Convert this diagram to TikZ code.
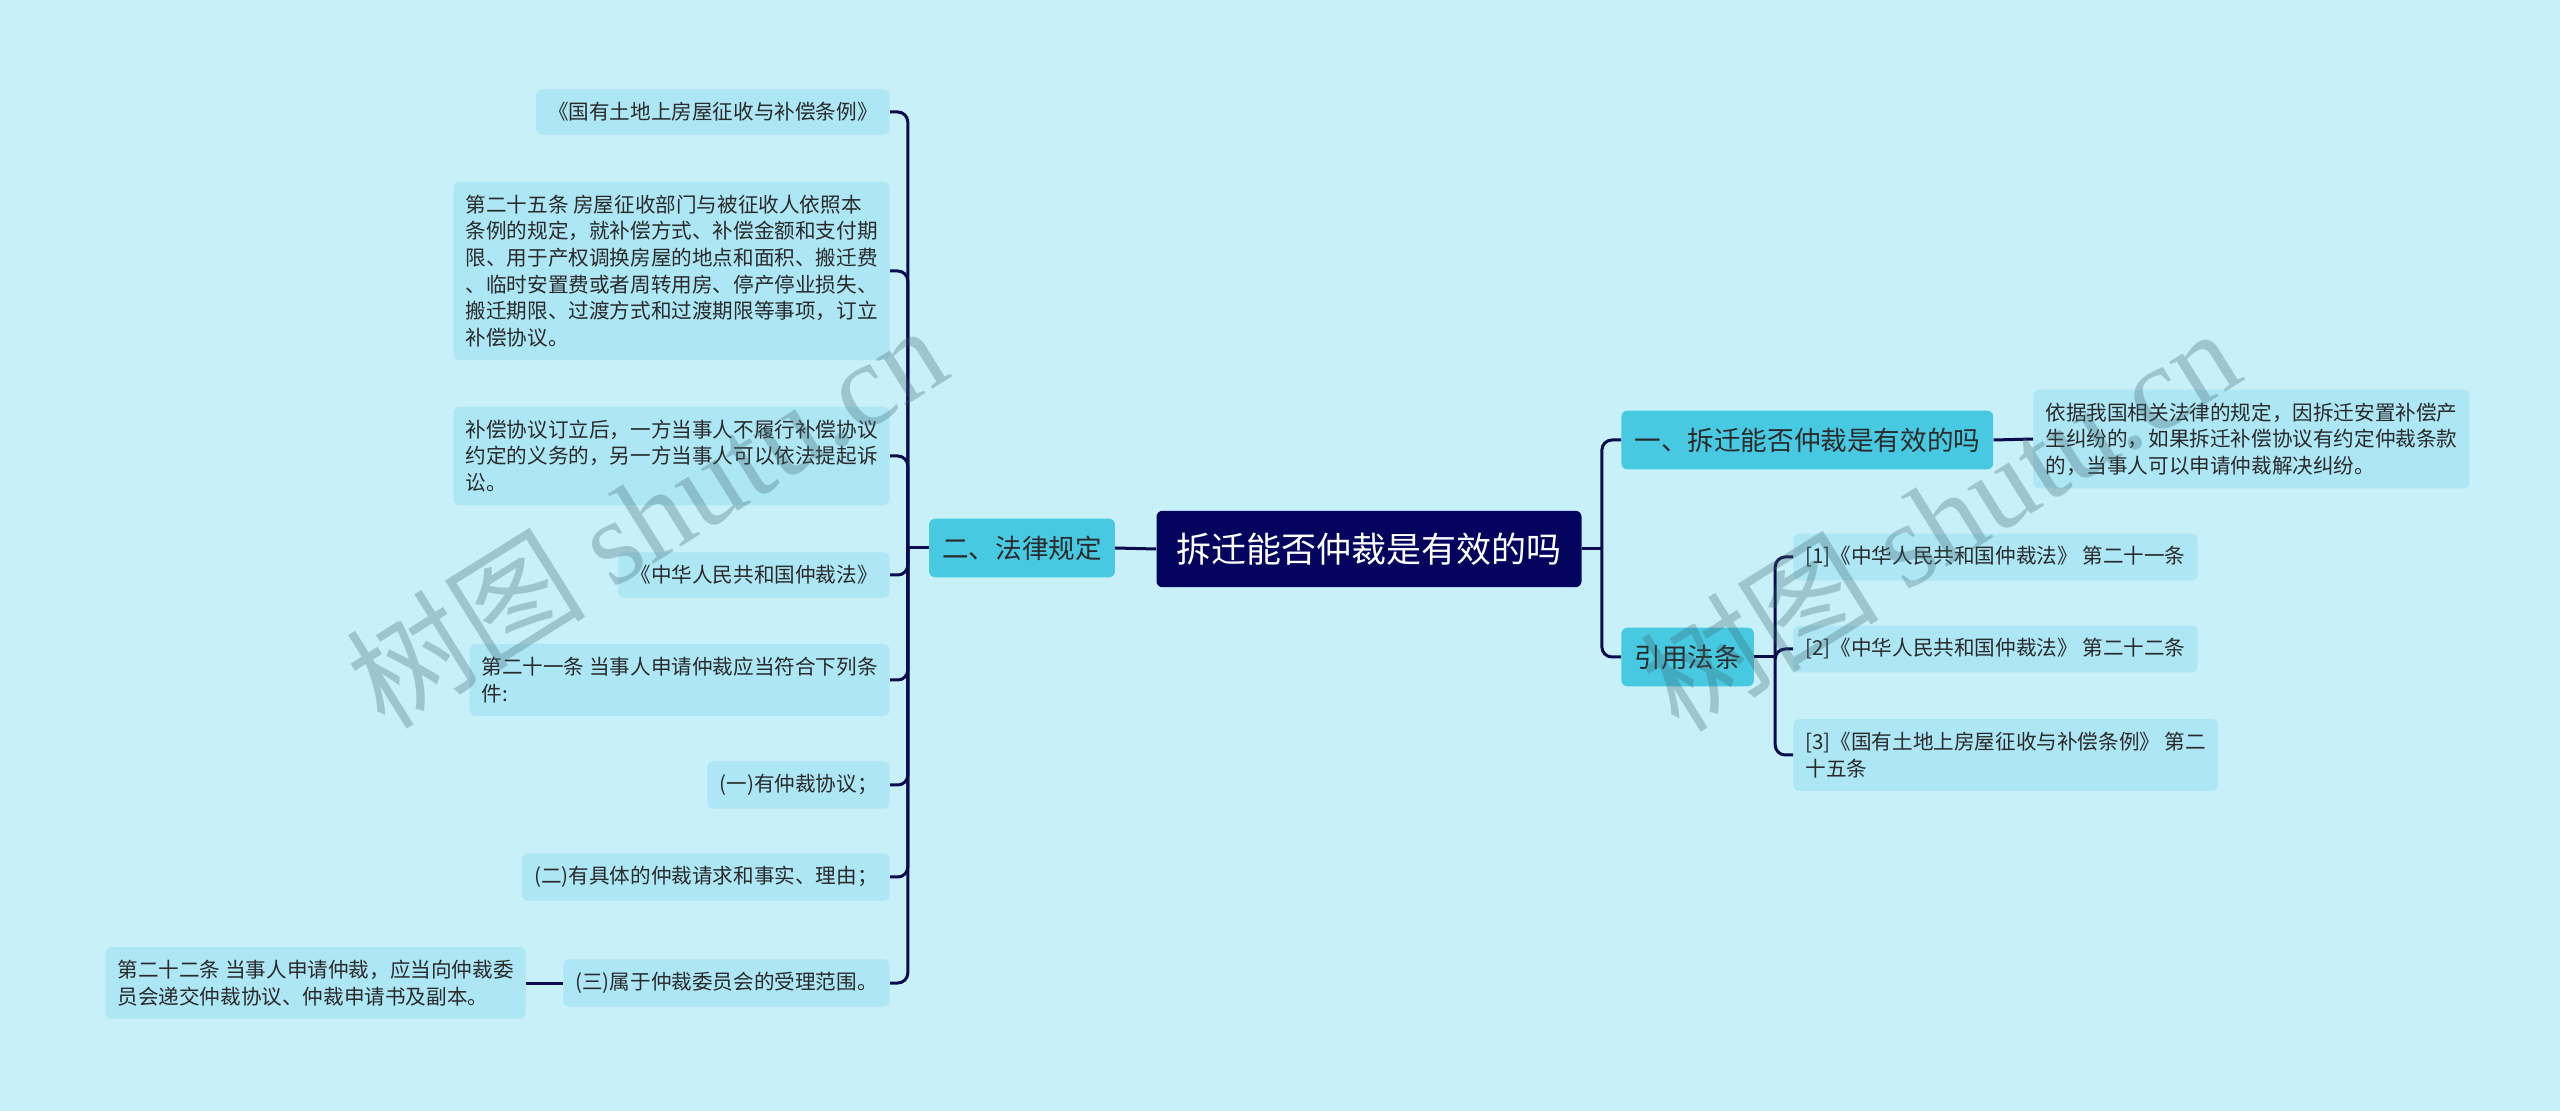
\documentclass[tikz,border=0pt]{standalone}
\usepackage{fontspec}
\setmainfont{Noto Sans CJK SC}
\newfontfamily\wmlatin{Liberation Serif}
\usetikzlibrary{calc}

\definecolor{bgc}{HTML}{C8F0F8}
\definecolor{leafc}{HTML}{ADE6F4}
\definecolor{topicc}{HTML}{48C9E2}
\definecolor{rootc}{HTML}{04045E}
\definecolor{linec}{HTML}{0B0B4E}
\definecolor{txtc}{HTML}{2A2A2A}
\definecolor{wmc}{HTML}{3C646E}

\tikzset{
  leaf/.style={fill=leafc, rounded corners=3pt, inner xsep=6pt, inner ysep=6.5pt,
    align=left, text=txtc, font=\fontsize{10.3pt}{13.3pt}\selectfont},
  topic/.style={fill=topicc, rounded corners=3pt, inner xsep=6.5pt, inner ysep=8.5pt,
    text=txtc, font=\fontsize{13.3pt}{16pt}\selectfont},
  rootbox/.style={fill=rootc, rounded corners=3pt, inner xsep=10pt, inner ysep=11pt,
    text=white, font=\fontsize{17.5pt}{20pt}\selectfont},
  link/.style={draw=linec, line width=1.5pt},
  mark wm/.style={text=wmc, opacity=.3, rotate=32, font=\fontsize{60pt}{60pt}\selectfont},
}

\begin{document}
\begin{tikzpicture}[x=0.5pt,y=-0.5pt]

  \fill[bgc] (0,0) rectangle (2560,1111);
  \useasboundingbox (0,0) rectangle (2560,1111);

  % centre and first level
  \node[rootbox] (root) at (1369,549) {拆迁能否仲裁是有效的吗};
  \node[topic] (law) at (1022,548) {二、法律规定};
  \node[topic,anchor=west] (q) at (1621,440) {一、拆迁能否仲裁是有效的吗};
  \node[topic,anchor=west] (cite) at (1621,657) {引用法条};

  % left branch
  \node[leaf,anchor=east] (l1) at (890,112) {《国有土地上房屋征收与补偿条例》};
  \node[leaf,anchor=east] (l2) at (890,271) {第二十五条 房屋征收部门与被征收人依照本\\条例的规定，就补偿方式、补偿金额和支付期\\限、用于产权调换房屋的地点和面积、搬迁费\\、临时安置费或者周转用房、停产停业损失、\\搬迁期限、过渡方式和过渡期限等事项，订立\\补偿协议。};
  \node[leaf,anchor=east] (l3) at (890,456) {补偿协议订立后，一方当事人不履行补偿协议\\约定的义务的，另一方当事人可以依法提起诉\\讼。};
  \node[leaf,anchor=east] (l4) at (890,575) {《中华人民共和国仲裁法》};
  \node[leaf,anchor=east] (l5) at (890,680) {第二十一条 当事人申请仲裁应当符合下列条\\件:};
  \node[leaf,anchor=east] (l6) at (890,785) {(一)有仲裁协议；};
  \node[leaf,anchor=east] (l7) at (890,877) {(二)有具体的仲裁请求和事实、理由；};
  \node[leaf,anchor=east] (l8) at (890,983) {(三)属于仲裁委员会的受理范围。};
  \node[leaf,anchor=east] (sub) at (526,983) {第二十二条 当事人申请仲裁，应当向仲裁委\\员会递交仲裁协议、仲裁申请书及副本。};

  % right branch
  \node[leaf,anchor=west] (r1) at (2033,439) {依据我国相关法律的规定，因拆迁安置补偿产\\生纠纷的，如果拆迁补偿协议有约定仲裁条款\\的，当事人可以申请仲裁解决纠纷。};
  \node[leaf,anchor=west] (r2) at (1793,557) {[1]《中华人民共和国仲裁法》 第二十一条};
  \node[leaf,anchor=west] (r3) at (1793,649) {[2]《中华人民共和国仲裁法》 第二十二条};
  \node[leaf,anchor=west] (r4) at (1793,755) {[3]《国有土地上房屋征收与补偿条例》 第二\\十五条};

  % connectors
  \coordinate (lawbus) at ($(law.west)+(-21,0)$);
  \coordinate (rootbus) at ($(root.east)+(20,0)$);
  \coordinate (citebus) at ($(cite.east)+(21,0)$);

  \draw[link] (root.west) -- (law.east);
  \draw[link] (law.west) -- (lawbus);
  \foreach \i in {1,...,8}
    \draw[link,rounded corners=5pt] (lawbus) |- (l\i.east);
  \draw[link] (l8.west) -- (sub.east);

  \draw[link] (root.east) -- (rootbus);
  \foreach \n in {q,cite}
    \draw[link,rounded corners=5pt] (rootbus) |- (\n.west);
  \draw[link] (q.east) -- (r1.west);
  \draw[link] (cite.east) -- (citebus);
  \foreach \i in {2,3,4}
    \draw[link,rounded corners=5pt] (citebus) |- (r\i.west);

  % watermarks
  \node[mark wm] (wm1) at (646,515) {树图 {\wmlatin shutu.cn}};
  \node[mark wm] (wm2) at (1939,518) {树图 {\wmlatin shutu.cn}};

\end{tikzpicture}
\end{document}
